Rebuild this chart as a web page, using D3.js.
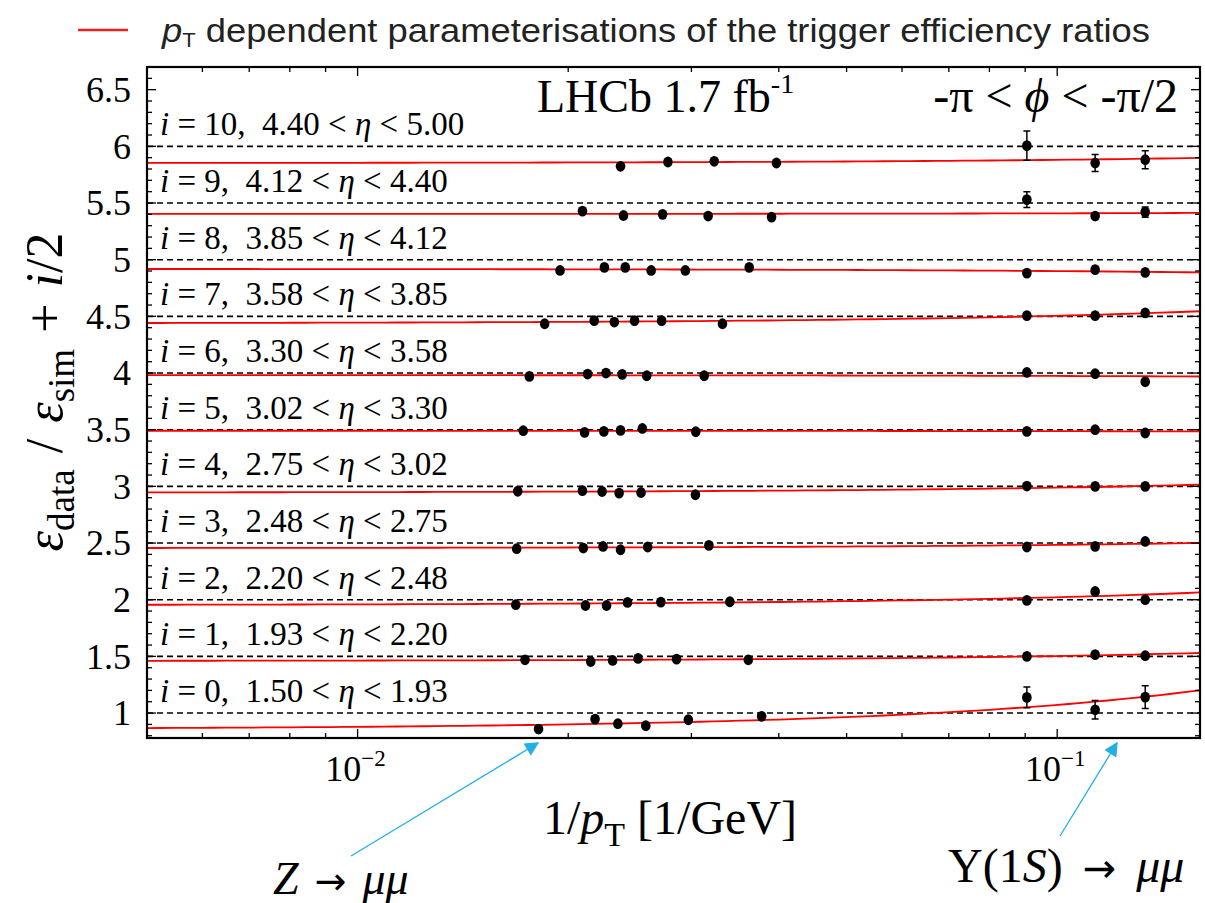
<!DOCTYPE html>
<html>
<head>
  <title>Trigger efficiency ratios</title>
  <script type="text/javascript" src="https://d3js.org/d3.v7.min.js"></script>
  <style>
    body { margin: 0; background: #fff; }
    svg { display: block; }
  </style>
</head>
<body>
  <div id="container"></div>
  <script type="text/javascript">
    // eta bins, one per row i
    var etaLow  = ['1.50','1.93','2.20','2.48','2.75','3.02','3.30','3.58','3.85','4.12','4.40'];
    var etaHigh = ['1.93','2.20','2.48','2.75','3.02','3.30','3.58','3.85','4.12','4.40','5.00'];

    // Z -> mumu points: 1/pT [1/GeV] and eff ratio, per row
    var zInvPt = [
      [0.01814, 0.02185, 0.02355, 0.02582, 0.02970, 0.03780],
      [0.01735, 0.02154, 0.02315, 0.02517, 0.02857, 0.03618],
      [0.01683, 0.02117, 0.02269, 0.02431, 0.02713, 0.03405],
      [0.01688, 0.02102, 0.02243, 0.02376, 0.02598, 0.03178],
      [0.01694, 0.02096, 0.02236, 0.02365, 0.02542, 0.03040],
      [0.01725, 0.02111, 0.02249, 0.02376, 0.02553, 0.03044],
      [0.01760, 0.02132, 0.02265, 0.02389, 0.02590, 0.03129],
      [0.01851, 0.02179, 0.02328, 0.02488, 0.02720, 0.03323],
      [0.01947, 0.02253, 0.02413, 0.02628, 0.02941, 0.03629],
      [0.02096, 0.02399, 0.02729, 0.03170, 0.03906],
      [0.02376, 0.02777, 0.03234, 0.03969]
    ];
    var zRatio = [
      [0.859, 0.947, 0.906, 0.888, 0.941, 0.971],
      [0.970, 0.955, 0.964, 0.982, 0.976, 0.970],
      [0.956, 0.949, 0.949, 0.976, 0.979, 0.982],
      [0.950, 0.956, 0.970, 0.941, 0.965, 0.979],
      [0.957, 0.962, 0.955, 0.941, 0.946, 0.926],
      [0.991, 0.976, 0.985, 0.994, 1.011, 0.982],
      [0.970, 0.991, 1.000, 0.988, 0.976, 0.976],
      [0.935, 0.962, 0.950, 0.962, 0.962, 0.935],
      [0.905, 0.932, 0.932, 0.905, 0.905, 0.932],
      [0.929, 0.890, 0.900, 0.885, 0.876],
      [0.824, 0.862, 0.868, 0.853]
    ];
    var zErr = 0.012;

    // Upsilon(1S) -> mumu points, same 1/pT bins in every row
    var upsInvPt = [0.0905, 0.1133, 0.1336];
    var upsRatio = [
      [1.138, 1.029, 1.141],
      [1.000, 1.015, 1.006],
      [0.994, 1.073, 1.000],
      [0.965, 0.970, 1.014],
      [1.003, 1.000, 1.000],
      [0.985, 1.000, 0.971],
      [1.005, 0.994, 0.923],
      [1.006, 1.006, 1.030],
      [0.882, 0.912, 0.888],
      [1.030, 0.885, 0.920],
      [1.006, 0.853, 0.882]
    ];
    var upsErr = [
      [0.091, 0.081, 0.101],
      [0.015, 0.015, 0.015],
      [0.015, 0.015, 0.015],
      [0.015, 0.015, 0.015],
      [0.015, 0.015, 0.015],
      [0.015, 0.015, 0.015],
      [0.015, 0.015, 0.015],
      [0.015, 0.015, 0.015],
      [0.015, 0.015, 0.015],
      [0.070, 0.020, 0.045],
      [0.129, 0.074, 0.080]
    ];

    // fitted parameterisation: ratio = a + b * (1/pT)
    var fitA = [0.857, 0.959, 0.952, 0.955, 0.945, 0.991, 0.982, 0.938, 0.919, 0.903, 0.852];
    var fitB = [2.15, 0.444, 0.70, 0.287, 0.438, -0.04, -0.078, 0.67, -0.196, 0.06, 0.29];

    var xMajor = [0.01, 0.1];
    var xMajorExp = ['\u22122', '\u22121'];
    var yMajor = [1, 1.5, 2, 2.5, 3, 3.5, 4, 4.5, 5, 5.5, 6, 6.5];
    var yMajorLabels = ['1', '1.5', '2', '2.5', '3', '3.5', '4', '4.5', '5', '5.5', '6', '6.5'];

    var W = 1205, H = 903;
    var plot = {left: 147, right: 1200, top: 67, bottom: 738};
    var serif = "'Liberation Serif', 'Times New Roman', serif";

    var svg = d3.select('#container').append('svg')
      .attr('width', W)
      .attr('height', H);

    var x = d3.scaleLog().domain([0.005, 0.16]).range([plot.left, plot.right]);
    var y = d3.scaleLinear().domain([0.78, 6.70]).range([plot.bottom, plot.top]);

    svg.append('clipPath').attr('id', 'clip')
      .append('rect')
      .attr('x', plot.left).attr('y', plot.top)
      .attr('width', plot.right - plot.left).attr('height', plot.bottom - plot.top);

    var gp = svg.append('g').attr('clip-path', 'url(#clip)');

    // reference dashed lines at ratio = 1
    gp.selectAll('.ref')
      .data(d3.range(etaLow.length))
      .enter()
      .append('line')
        .attr('class', 'ref')
        .attr('x1', plot.left).attr('x2', plot.right)
        .attr('y1', i => y(1 + i/2)).attr('y2', i => y(1 + i/2))
        .attr('stroke', '#000')
        .attr('stroke-width', 1.6)
        .attr('stroke-dasharray', '6,4');

    // fit curves
    var xs = d3.range(0, 81).map(k => 0.005 * Math.pow(0.16/0.005, k/80));
    var line = d3.line().x(d => x(d[0])).y(d => y(d[1]));
    gp.selectAll('.fit')
      .data(d3.range(fitA.length))
      .enter()
      .append('path')
        .attr('class', 'fit')
        .attr('d', i => line(xs.map(v => [v, fitA[i] + fitB[i]*v + i/2])))
        .attr('fill', 'none')
        .attr('stroke', '#ff0000')
        .attr('stroke-width', 1.8);

    // collect points
    var pts = [];
    for (var i = 0; i < zInvPt.length; i++) {
      for (var j = 0; j < zInvPt[i].length; j++)
        pts.push({x: zInvPt[i][j], v: zRatio[i][j] + i/2, e: zErr});
      for (var j = 0; j < upsInvPt.length; j++)
        pts.push({x: upsInvPt[j], v: upsRatio[i][j] + i/2, e: upsErr[i][j]});
    }

    var pg = svg.selectAll('.pt')
      .data(pts)
      .enter()
      .append('g')
        .attr('class', 'pt');
    pg.append('line')
      .attr('x1', d => x(d.x)).attr('x2', d => x(d.x))
      .attr('y1', d => y(d.v - d.e)).attr('y2', d => y(d.v + d.e))
      .attr('stroke', '#000').attr('stroke-width', 1.5);
    pg.filter(d => d.e > 0.02).append('path')
      .attr('d', d => `M${x(d.x)-3.5},${y(d.v-d.e)}H${x(d.x)+3.5}M${x(d.x)-3.5},${y(d.v+d.e)}H${x(d.x)+3.5}`)
      .attr('stroke', '#000').attr('stroke-width', 1.5);
    pg.append('ellipse')
      .attr('cx', d => x(d.x)).attr('cy', d => y(d.v))
      .attr('rx', 4.8).attr('ry', 5.4)
      .attr('fill', '#000');

    // frame and ticks
    var xMinor = [];
    [0.001, 0.01, 0.1].forEach(dec => {
      for (var k = 1; k < 10; k++) {
        var v = k*dec;
        if (v >= 0.005 && v <= 0.16) xMinor.push(v);
      }
    });
    var yMinor = d3.range(8, 67).map(k => k/10);

    var ticks = svg.append('g').attr('stroke', '#000').attr('stroke-width', 1.3);
    xMinor.forEach(v => {
      var len = (xMajor.some(m => Math.abs(m - v) < 1e-9)) ? 9 : 5;
      ticks.append('line').attr('x1', x(v)).attr('x2', x(v)).attr('y1', plot.bottom).attr('y2', plot.bottom - len);
      ticks.append('line').attr('x1', x(v)).attr('x2', x(v)).attr('y1', plot.top).attr('y2', plot.top + len);
    });
    yMinor.forEach(v => {
      var len = (Math.abs(v*2 - Math.round(v*2)) < 1e-6) ? 9 : 5;
      ticks.append('line').attr('x1', plot.left).attr('x2', plot.left + len).attr('y1', y(v)).attr('y2', y(v));
      ticks.append('line').attr('x1', plot.right).attr('x2', plot.right - len).attr('y1', y(v)).attr('y2', y(v));
    });

    svg.append('rect')
      .attr('x', plot.left).attr('y', plot.top)
      .attr('width', plot.right - plot.left).attr('height', plot.bottom - plot.top)
      .attr('fill', 'none').attr('stroke', '#000').attr('stroke-width', 2.2);

    // y tick labels
    svg.selectAll('.ylab')
      .data(yMajor)
      .enter()
      .append('text')
        .attr('class', 'ylab')
        .attr('x', 131)
        .attr('y', d => y(d))
        .attr('dy', '0.34em')
        .attr('text-anchor', 'end')
        .style('font', `36px ${serif}`)
        .text((d, k) => yMajorLabels[k]);

    // x tick labels
    xMajor.forEach((v, k) => {
      var t = svg.append('text')
        .attr('x', x(v) - 2).attr('y', 781)
        .attr('text-anchor', 'middle')
        .style('font', `36px ${serif}`);
      t.append('tspan').text('10');
      t.append('tspan').attr('dy', -15).style('font-size', '23px').text(xMajorExp[k]);
    });

    // row labels
    for (var i = 0; i < etaLow.length; i++) {
      var t = svg.append('text')
        .attr('x', 160).attr('y', y(1 + i/2) - 11)
        .attr('xml:space', 'preserve')
        .style('font', `33px ${serif}`);
      t.append('tspan').style('font-style', 'italic').text('i');
      t.append('tspan').text(` = ${i},  ${etaLow[i]} < `);
      t.append('tspan').style('font-style', 'italic').text('\u03b7');
      t.append('tspan').text(` < ${etaHigh[i]}`);
    }

    // LHCb and phi labels
    var lhcb = svg.append('text').attr('x', 537).attr('y', 112).style('font', `46px ${serif}`);
    lhcb.append('tspan').text('LHCb 1.7 fb');
    lhcb.append('tspan').attr('dy', -19).style('font-size', '28px').text('-1');

    var phi = svg.append('text').attr('x', 1178).attr('y', 112).attr('text-anchor', 'end')
      .attr('xml:space', 'preserve').style('font', `48px ${serif}`);
    phi.append('tspan').text('-\u03c0 < ');
    phi.append('tspan').style('font-style', 'italic').text('\u03d5');
    phi.append('tspan').text(' < -\u03c0/2');

    // axis titles
    var xt = svg.append('text').attr('x', 670).attr('y', 834).attr('text-anchor', 'middle')
      .style('font', `48px ${serif}`);
    xt.append('tspan').text('1/');
    xt.append('tspan').style('font-style', 'italic').text('p');
    xt.append('tspan').attr('dy', 12).style('font-size', '34px').text('T');
    xt.append('tspan').attr('dy', -12).text(' [1/GeV]');

    var yt = svg.append('text')
      .attr('transform', 'translate(62,392) rotate(-90)')
      .attr('text-anchor', 'middle')
      .attr('xml:space', 'preserve')
      .style('font', `52px ${serif}`);
    yt.append('tspan').style('font-style', 'italic').text('\u03b5');
    yt.append('tspan').attr('dy', 12).style('font-size', '37px').text('data');
    yt.append('tspan').attr('dy', -12).attr('dx', 3).text(' / ');
    yt.append('tspan').attr('dx', 3).style('font-style', 'italic').text('\u03b5');
    yt.append('tspan').attr('dy', 12).style('font-size', '37px').text('sim');
    yt.append('tspan').attr('dy', -12).attr('dx', 3).text(' + ');
    yt.append('tspan').attr('dx', 3).style('font-style', 'italic').text('i');
    yt.append('tspan').text('/2');

    // legend on top
    svg.append('line')
      .attr('x1', 78).attr('x2', 128).attr('y1', 30).attr('y2', 30)
      .attr('stroke', '#e8231f').attr('stroke-width', 2.5);
    var leg = svg.append('text').attr('x', 162).attr('y', 42)
      .attr('textLength', 988).attr('lengthAdjust', 'spacingAndGlyphs')
      .style('font', "33px 'Liberation Sans', Arial, sans-serif").attr('fill', '#222');
    leg.append('tspan').style('font-style', 'italic').text('p');
    leg.append('tspan').attr('dy', 5).style('font-size', '20px').text('T');
    leg.append('tspan').attr('dy', -5).text(' dependent parameterisations of the trigger efficiency ratios');

    // annotation arrows
    var blue = '#22aee6';
    svg.append('defs').append('marker')
      .attr('id', 'head')
      .attr('viewBox', '0 0 10 10')
      .attr('refX', 9).attr('refY', 5)
      .attr('markerWidth', 18).attr('markerHeight', 14)
      .attr('markerUnits', 'userSpaceOnUse')
      .attr('orient', 'auto')
      .append('path').attr('d', 'M0,0 L10,5 L0,10 z').attr('fill', blue);

    svg.append('line')
      .attr('x1', 351).attr('y1', 856).attr('x2', 538).attr('y2', 743)
      .attr('stroke', blue).attr('stroke-width', 1.3)
      .attr('marker-end', 'url(#head)');
    svg.append('line')
      .attr('x1', 1060).attr('y1', 836).attr('x2', 1117).attr('y2', 743)
      .attr('stroke', blue).attr('stroke-width', 1.3)
      .attr('marker-end', 'url(#head)');

    var arrowFont = "'DejaVu Sans', sans-serif";
    var zt = svg.append('text').attr('x', 273).attr('y', 894)
      .style('font', `46px ${serif}`);
    zt.append('tspan').style('font-style', 'italic').text('Z');
    zt.append('tspan').attr('dx', 16).style('font-family', arrowFont).style('font-size', '38px').text('\u2192');
    zt.append('tspan').attr('dx', 16).style('font-style', 'italic').text('\u03bc\u03bc');

    var ut = svg.append('text').attr('x', 948).attr('y', 882)
      .style('font', `48px ${serif}`);
    ut.append('tspan').text('\u03a5(1');
    ut.append('tspan').style('font-style', 'italic').text('S');
    ut.append('tspan').text(')');
    ut.append('tspan').attr('dx', 20).style('font-family', arrowFont).style('font-size', '40px').text('\u2192');
    ut.append('tspan').attr('dx', 20).style('font-style', 'italic').text('\u03bc\u03bc');
  </script>
</body>
</html>
